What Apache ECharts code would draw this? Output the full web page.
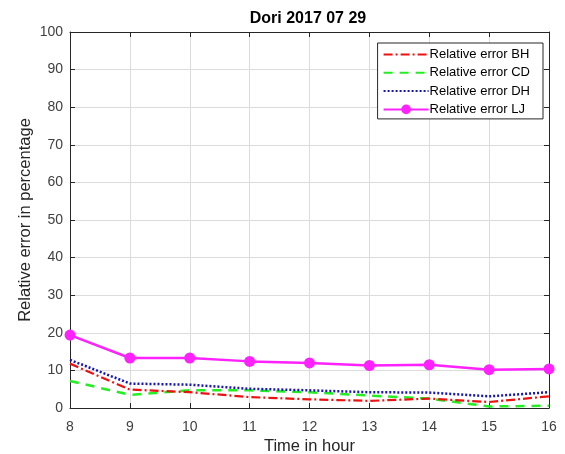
<!DOCTYPE html>
<html>
<head>
<meta charset="utf-8">
<script src="https://cdn.jsdelivr.net/npm/echarts@6/dist/echarts.min.js"></script>
<style>
html,body{margin:0;padding:0;background:#fff;}
#chart{width:565px;height:454px;}
</style>
</head>
<body>
<div id="chart"></div>
<script>
var hours = [8, 9, 10, 11, 12, 13, 14, 15, 16];
var errorBH = [11.8, 4.9, 4.2, 2.9, 2.3, 1.9, 2.5, 1.6, 3.1];
var errorCD = [7.2, 3.5, 4.7, 4.7, 4.2, 3.3, 2.5, 0.4, 0.6];
var errorDH = [12.8, 6.5, 6.2, 5.1, 4.7, 4.2, 4.1, 3.1, 4.2];
var errorLJ = [19.4, 13.3, 13.3, 12.4, 12.0, 11.3, 11.5, 10.2, 10.4];
var seriesNames = ['Relative error BH', 'Relative error CD', 'Relative error DH', 'Relative error LJ'];

function pairs(vals) { return hours.map(function (h, i) { return [h, vals[i]]; }); }

var font = 'Liberation Sans, Arial, sans-serif';
var axisColor = '#262626';
var chart = echarts.init(document.getElementById('chart'), null, {renderer: 'canvas'});
var option = {
  backgroundColor: '#ffffff',
  animation: false,
  title: {
    text: 'Dori 2017 07 29',
    left: 303, top: 6, textAlign: 'center',
    textStyle: {fontFamily: font, fontSize: 16, fontWeight: 'bold', color: '#000'}
  },
  grid: {left: 70, right: 16, top: 32, bottom: 46, containLabel: false, outerBoundsMode: 'none'},
  legend: {
    orient: 'vertical',
    right: 22, top: 43,
    itemWidth: 45, itemHeight: 12, itemGap: 5.3,
    padding: [5, 13, 3, 5],
    backgroundColor: '#ffffff',
    borderColor: '#262626', borderWidth: 1,
    textStyle: {fontFamily: font, fontSize: 13, color: '#000', padding: [0, 0, 0, -4]},
    data: [
      {name: seriesNames[0], itemStyle: {opacity: 0}},
      {name: seriesNames[1], itemStyle: {opacity: 0}},
      {name: seriesNames[2], itemStyle: {opacity: 0}},
      {name: seriesNames[3]}
    ]
  },
  xAxis: [{
    type: 'value', min: 8, max: 16, interval: 1,
    name: 'Time in hour', nameLocation: 'middle', nameGap: 30, nameMoveOverlap: false,
    nameTextStyle: {fontFamily: font, fontSize: 16.5, color: '#262626'},
    axisLine: {show: true, onZero: false, lineStyle: {color: axisColor, width: 1}},
    axisTick: {show: true, inside: true, length: 5, lineStyle: {color: axisColor}},
    axisLabel: {fontFamily: font, fontSize: 14, color: '#404040', margin: 12},
    splitLine: {show: true, lineStyle: {color: '#dcdcdc', width: 1}}
  }, {
    type: 'value', min: 8, max: 16, interval: 1, position: 'top',
    axisLine: {show: true, onZero: false, lineStyle: {color: axisColor, width: 1}},
    axisTick: {show: true, inside: true, length: 5, lineStyle: {color: axisColor}},
    axisLabel: {show: false}, splitLine: {show: false}
  }],
  yAxis: [{
    type: 'value', min: 0, max: 100, interval: 10,
    name: 'Relative error in percentage', nameLocation: 'middle', nameGap: 36, nameMoveOverlap: false,
    nameTextStyle: {fontFamily: font, fontSize: 16.5, color: '#262626'},
    axisLine: {show: true, onZero: false, lineStyle: {color: axisColor, width: 1}},
    axisTick: {show: true, inside: true, length: 5, lineStyle: {color: axisColor}},
    axisLabel: {fontFamily: font, fontSize: 14, color: '#404040', margin: 7},
    splitLine: {show: true, lineStyle: {color: '#dcdcdc', width: 1}}
  }, {
    type: 'value', min: 0, max: 100, interval: 10, position: 'right',
    axisLine: {show: true, onZero: false, lineStyle: {color: axisColor, width: 1}},
    axisTick: {show: true, inside: true, length: 5, lineStyle: {color: axisColor}},
    axisLabel: {show: false}, splitLine: {show: false}
  }],
  series: [{
    name: seriesNames[0], type: 'line', data: pairs(errorBH),
    symbol: 'none', z: 3,
    itemStyle: {color: '#ee1111'},
    lineStyle: {color: '#ee1111', width: 2.2, type: [9, 3, 2, 3]}
  }, {
    name: seriesNames[1], type: 'line', data: pairs(errorCD),
    symbol: 'none', z: 2,
    itemStyle: {color: '#22ee22'},
    lineStyle: {color: '#22ee22', width: 2.5, type: [9, 7]}
  }, {
    name: seriesNames[2], type: 'line', data: pairs(errorDH),
    symbol: 'none', z: 4,
    itemStyle: {color: '#1515b8'},
    lineStyle: {color: '#1515b8', width: 2.5, type: [2, 2]}
  }, {
    name: seriesNames[3], type: 'line', data: pairs(errorLJ),
    symbol: 'circle', symbolSize: 11, z: 5,
    itemStyle: {color: '#ff22ff'},
    lineStyle: {color: '#ff22ff', width: 2.5}
  }]
};
chart.setOption(option);
</script>
</body>
</html>
